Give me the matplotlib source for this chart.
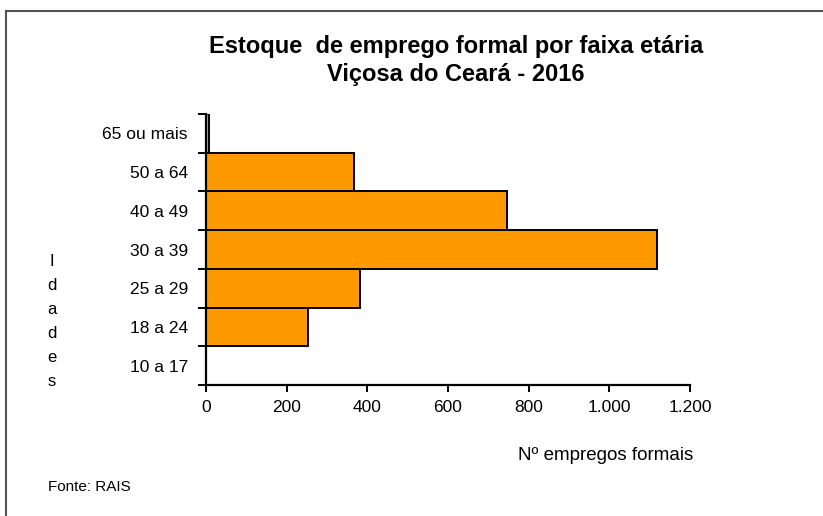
import matplotlib
matplotlib.use("Agg")
import matplotlib.pyplot as plt
from matplotlib.lines import Line2D
from matplotlib.ticker import FuncFormatter

plt.rcParams["font.family"] = ["Liberation Sans", "DejaVu Sans"]

faixas = ["10 a 17", "18 a 24", "25 a 29", "30 a 39", "40 a 49", "50 a 64", "65 ou mais"]
empregos = [0, 254, 381, 1117, 747, 368, 8]
x_ticks = [0, 200, 400, 600, 800, 1000, 1200]

fig = plt.figure(figsize=(8.23, 5.16), dpi=100)
ax = fig.add_axes([206 / 823, 1 - 385 / 516, 484 / 823, 271 / 516])

pos = list(range(len(faixas)))
ax.barh(pos, empregos, height=1.0, color="#FF9900", edgecolor="black", linewidth=1.4)

ax.set_xlim(0, 1200)
ax.set_ylim(-0.5, len(faixas) - 0.5)
ax.set_xticks(x_ticks)
ax.xaxis.set_major_formatter(FuncFormatter(lambda v, _: f"{int(v):,}".replace(",", ".")))
ax.set_yticks(pos)
ax.set_yticklabels(faixas)
ax.set_yticks([p - 0.5 for p in pos] + [len(faixas) - 0.5], minor=True)
ax.tick_params(axis="y", which="major", length=0, pad=13, labelsize=12.5)
ax.tick_params(axis="y", which="minor", length=6, width=1.4, direction="out")
ax.tick_params(axis="x", length=5, width=1.4, direction="out", pad=6, labelsize=12.5)

for s in ("top", "right"):
    ax.spines[s].set_visible(False)
for s in ("left", "bottom"):
    ax.spines[s].set_linewidth(1.6)

fig.text(456 / 823, 1 - 47 / 516, "Estoque  de emprego formal por faixa etária",
         ha="center", va="center", fontsize=17, fontweight="bold")
fig.text(456 / 823, 1 - 75 / 516, "Viçosa do Ceará - 2016",
         ha="center", va="center", fontsize=17, fontweight="bold")
fig.text(52 / 823, 1 - 322 / 516, "\n".join("Idades"), ha="center", va="center",
         fontsize=12, linespacing=1.75)
fig.text(606 / 823, 1 - 455 / 516, "Nº empregos formais", ha="center", va="center", fontsize=13.5)
fig.text(48 / 823, 1 - 487 / 516, "Fonte: RAIS", ha="left", va="center", fontsize=11)

fig.add_artist(Line2D([6 / 823, 6 / 823], [0, 1 - 11 / 516], color="#555555", linewidth=1.5))
fig.add_artist(Line2D([6 / 823, 1], [1 - 11 / 516, 1 - 11 / 516], color="#555555", linewidth=1.5))

fig.savefig("out.png", dpi=100)
